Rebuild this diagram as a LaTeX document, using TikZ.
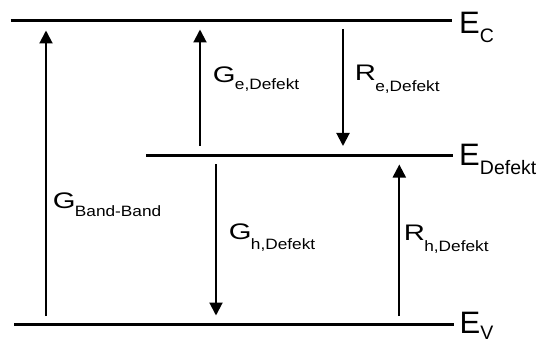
\documentclass[tikz,border=0pt]{standalone}
\usepackage{fontspec}
\setmainfont{Liberation Sans}
\usepackage{graphicx}
\usetikzlibrary{arrows.meta}
\newcommand\ratelab[3]{\scalebox{1.3}[1]{\fontsize{22.5}{23}\selectfont #1}\kern-0.6pt\raisebox{-#3pt}{\scalebox{1.15}[1]{\fontsize{15}{16}\selectfont #2}}}
\newcommand\levlab[2]{{\fontsize{31}{32}\selectfont E}\kern0.3pt\raisebox{-#2pt}{\fontsize{19.5}{20}\selectfont #1}}
\begin{document}
\begin{tikzpicture}[x=1pt,y=-1pt,
  level/.style={line width=3pt},
  trans/.style={line width=2pt,-{Triangle[length=13pt,width=13pt]}},
  lab/.style={inner sep=0pt,anchor=base west}]
\useasboundingbox (0,0) rectangle (546,342);
% energy levels
\coordinate (ecl) at (10.5,20.5);  \coordinate (ecr) at (451.5,20.5);
\coordinate (edl) at (146,155.7);  \coordinate (edr) at (453,155.7);
\coordinate (evl) at (14,324.3);   \coordinate (evr) at (454,324.3);
\draw[level] (ecl) -- (ecr);
\draw[level] (edl) -- (edr);
\draw[level] (evl) -- (evr);
% level labels
\node[lab] (lec) at (458.8,34) {\levlab{C}{8.5}};
\node[lab] (led) at (458.8,165.5) {\levlab{Defekt}{9.3}};
\node[lab] (lev) at (459.3,333.5) {\levlab{V}{6}};
% transitions
\coordinate (bb0) at (46,316);  \coordinate (bb1) at (46,30.5);
\coordinate (ge0) at (200,146); \coordinate (ge1) at (200,29.5);
\coordinate (re0) at (343,29);  \coordinate (re1) at (343,146);
\coordinate (gh0) at (216,164); \coordinate (gh1) at (216,315.5);
\coordinate (rh0) at (399.3,316); \coordinate (rh1) at (399.3,164.5);
\draw[trans] (bb0) -- (bb1);
\draw[trans] (ge0) -- (ge1);
\draw[trans] (re0) -- (re1);
\draw[trans] (gh0) -- (gh1);
\draw[trans] (rh0) -- (rh1);
% rate labels
\node[lab] (lge) at (212.6,83) {\ratelab{G}{e,Defekt}{7}};
\node[lab] (lre) at (354.6,80.7) {\ratelab{R}{e,Defekt}{11}};
\node[lab] (lbb) at (52.6,208) {\ratelab{G}{Band-Band}{8}};
\node[lab] (lgh) at (228.6,239.5) {\ratelab{G}{h,Defekt}{10}};
\node[lab] (lrh) at (403.6,240.7) {\ratelab{R}{h,Defekt}{11}};
\end{tikzpicture}
\end{document}
